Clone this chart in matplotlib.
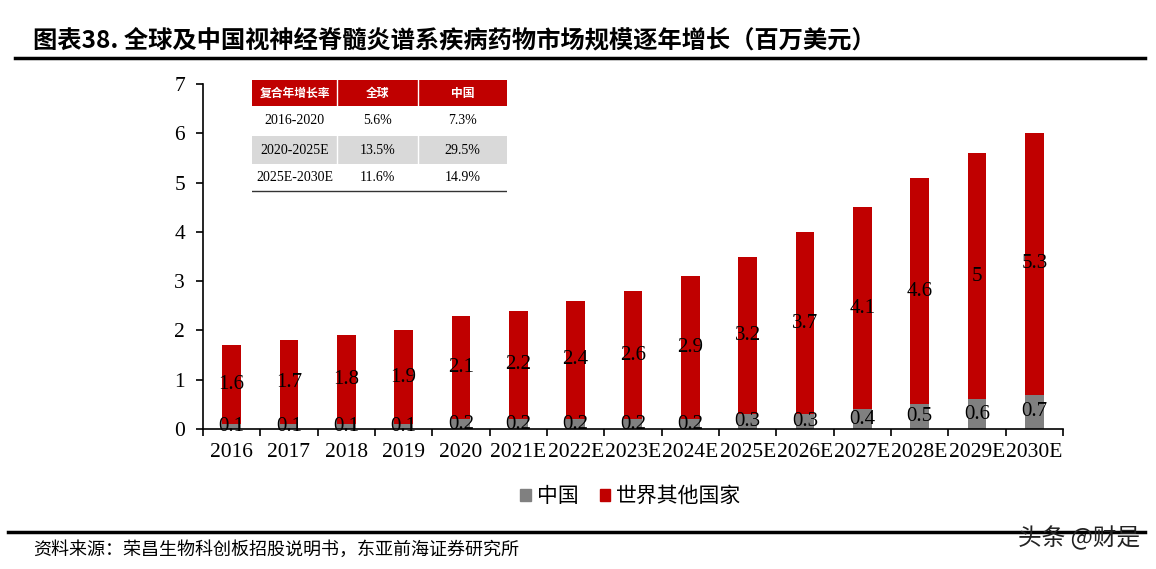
import matplotlib.pyplot as plt
import matplotlib.patches as mpatches
import numpy as np

plt.rcParams['font.family'] = ['Liberation Serif', 'Noto Sans CJK SC']

# data
years = ["2016", "2017", "2018", "2019", "2020", "2021E", "2022E", "2023E",
         "2024E", "2025E", "2026E", "2027E", "2028E", "2029E", "2030E"]
china = [0.1, 0.1, 0.1, 0.1, 0.2, 0.2, 0.2, 0.2, 0.2, 0.3, 0.3, 0.4, 0.5, 0.6, 0.7]
rest = [1.6, 1.7, 1.8, 1.9, 2.1, 2.2, 2.4, 2.6, 2.9, 3.2, 3.7, 4.1, 4.6, 5, 5.3]

cagr_header = ["复合年增长率", "全球", "中国"]
cagr_periods = ["2016-2020", "2020-2025E", "2025E-2030E"]
cagr_global = ["5.6%", "13.5%", "11.6%"]
cagr_china = ["7.3%", "29.5%", "14.9%"]

RED = "#C00000"
GRAY = "#808080"
CJK = ['Noto Sans CJK SC', 'DejaVu Sans']
W, H = 1156, 569

fig = plt.figure(figsize=(W / 100, H / 100), dpi=100)
ax = fig.add_axes([203 / W, 1 - 429 / H, 860 / W, 345 / H])

x = np.arange(len(years))
bw = 0.32
ax.bar(x, china, bw, color=GRAY, label="中国")
ax.bar(x, rest, bw, bottom=china, color=RED, label="世界其他国家")

for i in range(len(years)):
    ax.text(x[i], china[i] / 2, f"{china[i]:g}", ha="center", va="center", fontsize=15)
    ax.text(x[i], china[i] + rest[i] / 2, f"{rest[i]:g}", ha="center", va="center", fontsize=15)

ax.set_xlim(-0.5, len(years) - 0.5)
ax.set_ylim(0, 7)
ax.set_yticks(range(8))
ax.set_xticks(x)
ax.set_xticklabels(years)
ax.set_xticks(np.arange(-0.5, len(years)), minor=True)
ax.tick_params(axis="x", which="major", length=0, pad=10, labelsize=15.5)
ax.tick_params(axis="x", which="minor", length=5, width=1.2, direction="out")
ax.tick_params(axis="y", length=5, width=1.2, direction="out", labelsize=15.5, pad=8)
for s in ["top", "right"]:
    ax.spines[s].set_visible(False)
ax.spines["left"].set_linewidth(1.2)
ax.spines["bottom"].set_linewidth(1.2)

# legend
handles = [mpatches.Patch(color=GRAY, label="中国"), mpatches.Patch(color=RED, label="世界其他国家")]
fig.legend(handles=handles, loc="center", bbox_to_anchor=(631 / W, 1 - 496 / H), ncol=2,
           frameon=False, prop={"family": CJK, "size": 15}, handlelength=0.5, handleheight=0.5,
           handletextpad=0.3, columnspacing=1.0)

# CAGR table
tab = fig.add_axes([252 / W, 1 - 193 / H, 255 / W, 113 / H])
tab.set_xlim(0, 255)
tab.set_ylim(113, 0)
tab.axis("off")
col_x = [0, 85, 166, 255]
row_y = [0, 26, 56, 84, 111]
for j in range(3):
    tab.add_patch(mpatches.Rectangle((col_x[j], 0), col_x[j + 1] - col_x[j], 26, color=RED, lw=0))
    tab.text((col_x[j] + col_x[j + 1]) / 2, 13, cagr_header[j], ha="center", va="center",
             color="white", fontsize=8.5, fontweight="bold", family=CJK)
for j in (1, 2):
    tab.plot([col_x[j], col_x[j]], [0, 26], color="white", lw=1)
tab.add_patch(mpatches.Rectangle((0, row_y[2]), 255, row_y[3] - row_y[2], color="#D9D9D9", lw=0))
for j in (1, 2):
    tab.plot([col_x[j], col_x[j]], [row_y[2], row_y[3]], color="white", lw=1)
for r in range(3):
    yc = (row_y[r + 1] + row_y[r + 2]) / 2
    for j, v in enumerate([cagr_periods[r], cagr_global[r], cagr_china[r]]):
        tab.text((col_x[j] + col_x[j + 1]) / 2, yc, v, ha="center", va="center", fontsize=10)
tab.plot([0, 255], [111, 111], color="#333333", lw=1)

# title, rules, source
fig.text(33 / W, 1 - 40 / H, "图表38. 全球及中国视神经脊髓炎谱系疾病药物市场规模逐年增长（百万美元）",
         ha="left", va="center", fontsize=17.5, fontweight="bold", family=CJK)
fig.add_artist(plt.Line2D([15 / W, 1145 / W], [1 - 58 / H, 1 - 58 / H], color="black", lw=2.5))
fig.add_artist(plt.Line2D([8 / W, 1145 / W], [1 - 532 / H, 1 - 532 / H], color="black", lw=2.5))
fig.text(33 / W, 1 - 550 / H, "资料来源：荣昌生物科创板招股说明书，东亚前海证券研究所",
         ha="left", va="center", fontsize=13, family=CJK)
fig.text(1140 / W, 1 - 538 / H, "头条 @财是", ha="right", va="center", fontsize=17,
         family=CJK, color="#222222")

fig.savefig("out.png", dpi=100)
